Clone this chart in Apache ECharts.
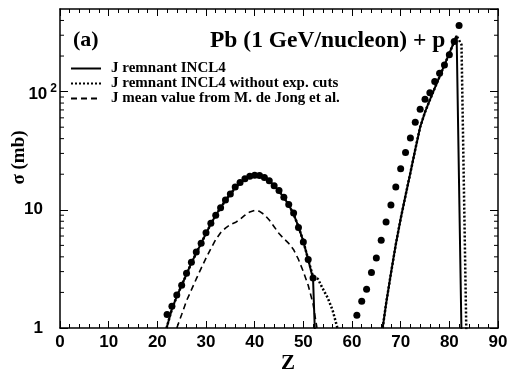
<!DOCTYPE html>
<html>
<head>
<meta charset="utf-8">
<script src="https://cdn.jsdelivr.net/npm/echarts@6/dist/echarts.min.js"></script>
<style>
  html, body { margin: 0; padding: 0; background: #ffffff; }
  #chart { width: 509px; height: 374px; }
</style>
</head>
<body>
<div id="chart"></div>
<script>
// Axis ranges and tick values
const zRange = [0, 90];
const sigmaRange = [1, 500];
const sigmaMinorTicks = [2, 3, 4, 5, 6, 7, 8, 9, 20, 30, 40, 50, 60, 70, 80, 90, 200, 300, 400];

// Measured cross sections (filled circles)
const zExp = [22, 23, 24, 25, 26, 27, 28, 29, 30, 31, 32, 33, 34, 35, 36, 37, 38, 39, 40, 41,
              42, 43, 44, 45, 46, 47, 48, 49, 50, 51, 52,
              61, 62, 63, 64, 65, 66, 67, 68, 69, 70, 71, 72, 73, 74, 75, 76, 77, 78, 79, 80, 81, 82];
const sigmaExp = [1.30, 1.53, 1.9, 2.3, 2.9, 3.6, 4.4, 5.2, 6.4, 7.7, 9.0, 10.4, 12.1, 13.6, 15.6, 17.0, 18.3, 19.2, 19.6, 19.5,
                  18.8, 17.6, 16.0, 14.6, 12.8, 11.1, 9.4, 7.1, 5.35, 3.8, 2.65,
                  1.28, 1.68, 2.13, 2.95, 3.92, 5.53, 7.87, 11.0, 15.6, 22.3, 30.6, 40.5, 55, 71, 86, 98, 122, 143, 168, 205, 265, 363];

// J remnant INCL4 (solid); null splits the two branches
const zSolid = [21.9, 23, 24, 25, 26, 27, 28, 29, 30, 31, 32, 33, 34, 35, 36, 37, 38, 39, 40, 41,
                42, 43, 44, 45, 46, 47, 48, 49, 50, 51, 52, 52.6, null,
                66.3, 67, 68, 69, 70, 71, 72, 73, 74, 75, 76, 77, 78, 79, 80, 81, 81.5, 82.6];
const sigmaSolid = [1.0, 1.45, 1.85, 2.3, 2.85, 3.55, 4.3, 5.2, 6.3, 7.6, 9.0, 10.4, 12.0, 13.6, 15.3, 16.9, 18.2, 19.1, 19.6, 19.5,
                    18.8, 17.5, 16.0, 14.4, 12.7, 11.0, 9.2, 7.2, 5.4, 3.8, 2.6, 0.5, null,
                    1.0, 1.6, 2.9, 5.1, 8.4, 13.2, 20.6, 32.4, 50, 67, 85, 107, 134, 168, 211, 265, 297, 0.5];

// J remnant INCL4 without exp. cuts (dotted)
const zNoCuts = [21.9, 23, 24, 25, 26, 27, 28, 29, 30, 31, 32, 33, 34, 35, 36, 37, 38, 39, 40, 41,
                 42, 43, 44, 45, 46, 47, 48, 49, 50, 51, 52, 53, 54, 55, 56, 57, null,
                 66.3, 67, 68, 69, 70, 71, 72, 73, 74, 75, 76, 77, 78, 79, 80, 81, 81.5, 82.5, 83.6];
const sigmaNoCuts = [1.0, 1.45, 1.85, 2.3, 2.85, 3.55, 4.3, 5.2, 6.3, 7.6, 9.0, 10.4, 12.0, 13.6, 15.3, 16.9, 18.2, 19.1, 19.6, 19.5,
                     18.8, 17.5, 16.0, 14.4, 12.7, 11.0, 9.2, 7.2, 5.4, 3.8, 2.7, 2.6, 2.15, 1.8, 1.42, 1.0, null,
                     1.0, 1.6, 2.9, 5.1, 8.4, 13.2, 20.6, 32.4, 50, 67, 85, 107, 134, 168, 211, 265, 297, 250, 0.5];

// J mean value from M. de Jong et al. (dashed)
const zJong = [24, 25, 26, 27, 28, 29, 30, 31, 32, 33, 34, 35, 36, 37, 38, 39, 40, 41, 42, 43,
               44, 45, 46, 47, 48, 49, 50, 51, 52, 52.8];
const sigmaJong = [1.0, 1.3, 1.7, 2.1, 2.6, 3.2, 3.9, 4.7, 5.6, 6.4, 7.0, 7.5, 7.8, 8.3, 9.0, 9.6, 9.9, 9.7, 9.1, 8.2,
                   7.2, 6.3, 5.7, 5.2, 4.6, 3.8, 3.0, 2.3, 1.6, 1.0];

const names = ['J remnant INCL4', 'J remnant INCL4 without exp. cuts', 'J mean value from M. de Jong et al.'];

function pairs(xs, ys) {
  return xs.map((x, i) => (x === null ? ['-', '-'] : [x, ys[i]]));
}

const serif = '"Liberation Serif", "Times New Roman", serif';
const sans = '"Liberation Sans", Arial, sans-serif';

const chart = echarts.init(document.getElementById('chart'), null, { renderer: 'canvas' });

const xAxisBase = {
  type: 'value', min: zRange[0], max: zRange[1], interval: 10,
  axisLine: { show: true, onZero: false, lineStyle: { color: '#000', width: 1.5 } },
  axisTick: { show: true, inside: true, length: 7, lineStyle: { color: '#000', width: 1 } },
  minorTick: { show: true, splitNumber: 5, length: 4, lineStyle: { color: '#000', width: 1 } },
  splitLine: { show: false }, minorSplitLine: { show: false }
};
const yAxisBase = {
  type: 'log', logBase: 10, min: sigmaRange[0], max: sigmaRange[1],
  axisLine: { show: true, onZero: false, lineStyle: { color: '#000', width: 1.5 } },
  axisTick: { show: true, inside: true, length: 8, lineStyle: { color: '#000', width: 1 } },
  splitLine: { show: false }
};

chart.setOption({
  backgroundColor: '#ffffff',
  animation: false,
  title: [
    { text: '(a)', left: 68, top: 24, textStyle: { fontFamily: serif, fontWeight: 'bold', fontSize: 22, color: '#000' } },
    { text: 'Pb (1 GeV/nucleon) + p', left: 205, top: 24, textStyle: { fontFamily: serif, fontWeight: 'bold', fontSize: 23.5, color: '#000' } }
  ],
  legend: {
    data: names, orient: 'vertical', left: 65, top: 56, itemGap: 0,
    itemWidth: 30, itemHeight: 14,
    itemStyle: { opacity: 0 },
    textStyle: { fontFamily: serif, fontWeight: 'bold', fontSize: 15, color: '#000', padding: [0, 0, 0, 5] }
  },
  grid: { left: 60, right: 11, top: 9, bottom: 46, show: false, containLabel: false, outerBoundsMode: 'none' },
  xAxis: [
    Object.assign({}, xAxisBase, {
      position: 'bottom',
      name: 'Z', nameLocation: 'middle', nameGap: 25, nameMoveOverlap: false,
      nameTextStyle: { fontFamily: serif, fontWeight: 'bold', fontSize: 21, color: '#000', padding: [0, 0, 0, 18] },
      axisLabel: { show: true, margin: 6, fontFamily: sans, fontWeight: 'bold', fontSize: 17, color: '#000' }
    }),
    Object.assign({}, xAxisBase, { position: 'top', axisLabel: { show: false } })
  ],
  yAxis: [
    Object.assign({}, yAxisBase, {
      position: 'left',
      name: 'σ (mb)', nameLocation: 'middle', nameRotate: 90, nameGap: 31, nameMoveOverlap: false,
      nameTextStyle: { fontFamily: serif, fontWeight: 'bold', fontSize: 19, color: '#000', padding: [0, 0, 0, 22] },
      axisLabel: {
        show: true, margin: 3, showMaxLabel: false,
        formatter: function (v) {
          if (Math.abs(v - 100) < 1e-6) return '{b|10}{s|2}';
          if (Math.abs(v - 10) < 1e-6) return '{n|10}';
          if (Math.abs(v - 1) < 1e-6) return '{n|1}';
          return '';
        },
        rich: {
          n: { fontFamily: sans, fontWeight: 'bold', fontSize: 17, color: '#000', padding: [0, 14, 0, 0] },
          b: { fontFamily: sans, fontWeight: 'bold', fontSize: 17, color: '#000', padding: [0, 0, -6, 0] },
          s: { fontFamily: sans, fontWeight: 'bold', fontSize: 12, color: '#000', padding: [0, 0, 6, 3] }
        }
      }
    }),
    Object.assign({}, yAxisBase, { position: 'right', axisLabel: { show: false } })
  ],
  series: [
    {
      name: names[0], type: 'line', xAxisIndex: 0, yAxisIndex: 0,
      data: pairs(zSolid, sigmaSolid), showSymbol: false, symbol: 'none', clip: true,
      connectNulls: false,
      lineStyle: { color: '#000', width: 2, type: 'solid' }, itemStyle: { color: '#000' }, z: 3
    },
    {
      name: names[1], type: 'line', xAxisIndex: 0, yAxisIndex: 0,
      data: pairs(zNoCuts, sigmaNoCuts), showSymbol: false, symbol: 'none', clip: true,
      connectNulls: false,
      lineStyle: { color: '#000', width: 2.5, type: [2, 2] }, itemStyle: { color: '#000' }, z: 3
    },
    {
      name: names[2], type: 'line', xAxisIndex: 0, yAxisIndex: 0,
      data: pairs(zJong, sigmaJong), showSymbol: false, symbol: 'none', clip: true,
      lineStyle: { color: '#000', width: 1.6, type: [6, 4] }, itemStyle: { color: '#000' }, z: 3
    },
    {
      name: 'exp', type: 'scatter', xAxisIndex: 0, yAxisIndex: 0,
      data: pairs(zExp, sigmaExp), symbol: 'circle', symbolSize: 7,
      itemStyle: { color: '#000', opacity: 1 }, z: 4
    },
    {
      // minor decade ticks on the left and right frame edges
      name: 'minorTicks', type: 'custom', xAxisIndex: 0, yAxisIndex: 0,
      data: sigmaMinorTicks.map(v => [zRange[0], v]),
      silent: true,
      renderItem: function (params, api) {
        const v = api.value(1);
        const l = api.coord([zRange[0], v]);
        const r = api.coord([zRange[1], v]);
        const style = { stroke: '#000', lineWidth: 1 };
        return {
          type: 'group',
          children: [
            { type: 'line', shape: { x1: l[0], y1: l[1], x2: l[0] + 4, y2: l[1] }, style: style },
            { type: 'line', shape: { x1: r[0], y1: r[1], x2: r[0] - 4, y2: r[1] }, style: style }
          ]
        };
      },
      z: 5
    }
  ]
});
</script>
</body>
</html>
